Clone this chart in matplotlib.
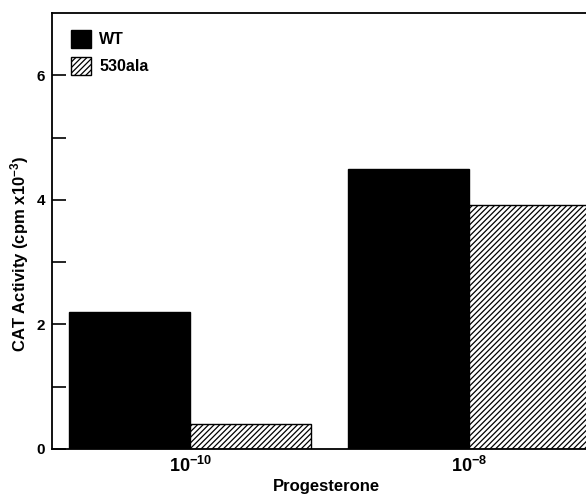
import matplotlib
matplotlib.use("Agg")
import matplotlib.pyplot as plt
import numpy as np

categories = ["$10^{-10}$", "$10^{-8}$"]
wt = [2.2, 4.5]
ala530 = [0.4, 3.92]
series_names = ["WT", "530ala"]
yticks_major = [0, 2, 4, 6]
yticks_minor = [1, 3, 5]

plt.rcParams['font.family'] = ['Liberation Sans', 'DejaVu Sans']
plt.rcParams['hatch.linewidth'] = 0.9
plt.rcParams['mathtext.fontset'] = 'custom'
plt.rcParams['mathtext.rm'] = 'Liberation Sans:bold'
plt.rcParams['mathtext.it'] = 'Liberation Sans:bold'
plt.rcParams['mathtext.bf'] = 'Liberation Sans:bold'

fig = plt.figure(figsize=(5.86, 4.96), dpi=100)
W, H = 586, 496
left, right, top, bottom = 52, 586, 13, 449
ax = fig.add_axes([left / W, 1 - bottom / H, (right - left) / W, (bottom - top) / H])

x = np.arange(len(categories))
bw = 0.434
ax.bar(x - bw / 2, wt, width=bw, color='black', edgecolor='black', linewidth=1, label=series_names[0])
ax.bar(x + bw / 2, ala530, width=bw, color='white', edgecolor='black', linewidth=1,
       hatch='//////', label=series_names[1])

ax.set_xlim(-0.495, 1.419)
ax.set_ylim(0, 7)
ax.set_yticks(yticks_major)
ax.set_yticklabels([str(v) for v in yticks_major], fontsize=11, fontweight='bold')
ax.set_yticks(yticks_minor, minor=True)
ax.tick_params(axis='y', which='both', direction='in', length=10, width=1.2, pad=5)
ax.set_xticks(x)
ax.set_xticklabels(categories, fontsize=13)
ax.tick_params(axis='x', length=0, pad=5)

for s in ['left', 'bottom', 'top']:
    ax.spines[s].set_linewidth(1.3)
ax.spines['right'].set_visible(False)

ax.set_ylabel("CAT Activity (cpm x10$^{-3}$)", fontsize=12, fontweight='bold')
ax.yaxis.set_label_coords((20 - left) / (right - left), (bottom - 254) / (bottom - top))
ax.set_xlabel("Progesterone", fontsize=12, fontweight='bold')
ax.xaxis.set_label_coords((326 - left) / (right - left), -(487 - bottom) / (bottom - top))
ax.xaxis.label.set_va('center')
ax.yaxis.label.set_va('center')

leg = ax.legend(loc='upper left', bbox_to_anchor=(0.008, 0.995), frameon=False,
                handlelength=1.3, handleheight=1.4, handletextpad=0.5, labelspacing=0.55,
                prop={'weight': 'bold', 'size': 11.5})

fig.savefig("out.png", dpi=100)
